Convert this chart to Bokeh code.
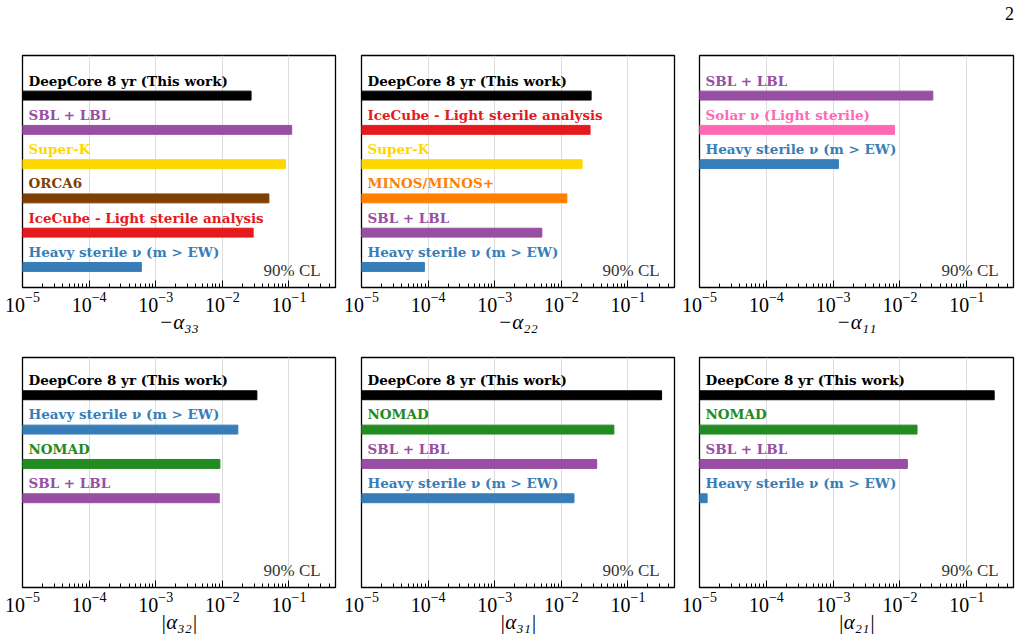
from bokeh.plotting import figure
from bokeh.layouts import column, row
from bokeh.models import FixedTicker, LogTickFormatter, Range1d, Div, ColumnDataSource
from bokeh.core.properties import value
from bokeh.embed import file_html
from bokeh.resources import INLINE

# ---- data: 90% CL upper limits on the non-unitarity parameters ----
HEAVY = "Heavy sterile \u03bd (m > EW)"
DEEPCORE = "DeepCore 8 yr (This work)"
ICECUBE = "IceCube - Light sterile analysis"

a33_labels = [DEEPCORE, "SBL + LBL", "Super-K", "ORCA6", ICECUBE, HEAVY]
a33_values = [0.027, 0.11, 0.089, 0.050, 0.029, 6.1e-4]

a22_labels = [DEEPCORE, ICECUBE, "Super-K", "MINOS/MINOS+", "SBL + LBL", HEAVY]
a22_values = [0.028, 0.027, 0.0205, 0.0121, 0.0051, 8.8e-5]

a11_labels = ["SBL + LBL", "Solar \u03bd (Light sterile)", HEAVY]
a11_values = [0.031, 0.0083, 0.0012]

a32_labels = [DEEPCORE, HEAVY, "NOMAD", "SBL + LBL"]
a32_values = [0.033, 0.0171, 0.0092, 0.0090]

a31_labels = [DEEPCORE, "NOMAD", "SBL + LBL", HEAVY]
a31_values = [0.32, 0.0615, 0.034, 0.0155]

a21_labels = [DEEPCORE, "NOMAD", "SBL + LBL", HEAVY]
a21_values = [0.257, 0.018, 0.0129, 1.3e-5]

decades = [1e-5, 1e-4, 1e-3, 1e-2, 1e-1]

colors = {
    DEEPCORE: "#000000",
    "SBL + LBL": "#984ea3",
    "Super-K": "#ffd700",
    "ORCA6": "#7f3f00",
    ICECUBE: "#e41a1c",
    HEAVY: "#377eb8",
    "MINOS/MINOS+": "#ff7f00",
    "Solar \u03bd (Light sterile)": "#ff69b4",
    "NOMAD": "#228b22",
}

X_MIN, X_MAX = 1e-5, 0.5
LABEL_FONT = "DejaVu Serif"
NUM_FONT = "Liberation Serif"
HEADER_H = 28


def panel(labels, values, xlabel, width, b_left, b_right, b_top, b_bottom, frame_h, y_top):
    p = figure(
        width=width, height=b_top + frame_h + b_bottom,
        x_axis_type="log", x_range=Range1d(X_MIN, X_MAX), y_range=Range1d(-5.6, y_top),
        output_backend="svg", toolbar_location=None,
        min_border_left=b_left, min_border_right=b_right,
        min_border_top=b_top, min_border_bottom=b_bottom,
    )
    slots = [-i for i in range(len(labels))]
    src = ColumnDataSource(dict(
        y=slots, ty=[s + 0.44 for s in slots], right=values,
        left=[X_MIN * 0.01] * len(values), text=labels,
        color=[colors[l] for l in labels], tx=[1.23e-5] * len(values),
    ))
    p.hbar(y="y", left="left", right="right", height=0.26, color="color", source=src)
    p.text(x="tx", y="ty", text="text", text_color="color", source=src,
           text_font=value(LABEL_FONT), text_font_style="bold",
           text_font_size="13.5px", text_baseline="middle", text_align="left")
    p.text(x=[0.3], y=[-5.1], text=["90% CL"], text_color="#333333",
           text_font=value(NUM_FONT), text_font_size="17px",
           text_baseline="middle", text_align="right")

    ax = p.xaxis[0]
    ax.ticker = FixedTicker(
        ticks=decades,
        minor_ticks=[m * d for d in decades for m in range(2, 10)],
    )
    ax.formatter = LogTickFormatter()
    ax.major_tick_in = 7
    ax.major_tick_out = 0
    ax.minor_tick_in = 4
    ax.minor_tick_out = 0
    ax.major_tick_line_color = "black"
    ax.minor_tick_line_color = "black"
    ax.axis_line_color = None
    ax.major_label_text_font = NUM_FONT
    ax.major_label_text_font_size = "20px"
    ax.major_label_text_color = "black"
    ax.major_label_standoff = 4
    ax.axis_label = xlabel
    ax.axis_label_text_font = NUM_FONT
    ax.axis_label_text_font_size = "21px"
    ax.axis_label_text_font_style = "italic"
    ax.axis_label_text_color = "black"
    ax.axis_label_standoff = -5

    p.yaxis.visible = False
    p.ygrid.visible = False
    p.xgrid.grid_line_color = "#dddddd"
    p.xgrid.grid_line_width = 1
    p.outline_line_color = "black"
    p.outline_line_width = 1.3
    p.outline_line_alpha = 1
    p.background_fill_color = "white"
    p.border_fill_color = "white"
    return p


TOP_H, BOT_H = 232, 230
top_border = 55 - HEADER_H

p33 = panel(a33_labels, a33_values, "\u2212\u03b1\u2083\u2083", 341, 22, 6, top_border, 53, TOP_H, 1.17)
p22 = panel(a22_labels, a22_values, "\u2212\u03b1\u2082\u2082", 339, 20, 6, top_border, 53, TOP_H, 1.17)
p11 = panel(a11_labels, a11_values, "\u2212\u03b1\u2081\u2081", 343, 19, 10, top_border, 53, TOP_H, 1.17)

p32 = panel(a32_labels, a32_values, "|\u03b1\u2083\u2082|", 341, 22, 6, 17, 55, BOT_H, 1.1)
p31 = panel(a31_labels, a31_values, "|\u03b1\u2083\u2081|", 339, 20, 6, 17, 55, BOT_H, 1.1)
p21 = panel(a21_labels, a21_values, "|\u03b1\u2082\u2081|", 343, 19, 10, 17, 55, BOT_H, 1.1)

# page number in the top-right corner
page_no = Div(text="2", width=1014, height=HEADER_H, margin=0,
              styles={"text-align": "right", "font-family": NUM_FONT,
                      "font-size": "18px", "line-height": f"{HEADER_H}px",
                      "color": "black", "background": "white"})

layout = column(page_no, row(p33, p22, p11), row(p32, p31, p21))

open("out.html", "w").write(file_html(layout, INLINE))
